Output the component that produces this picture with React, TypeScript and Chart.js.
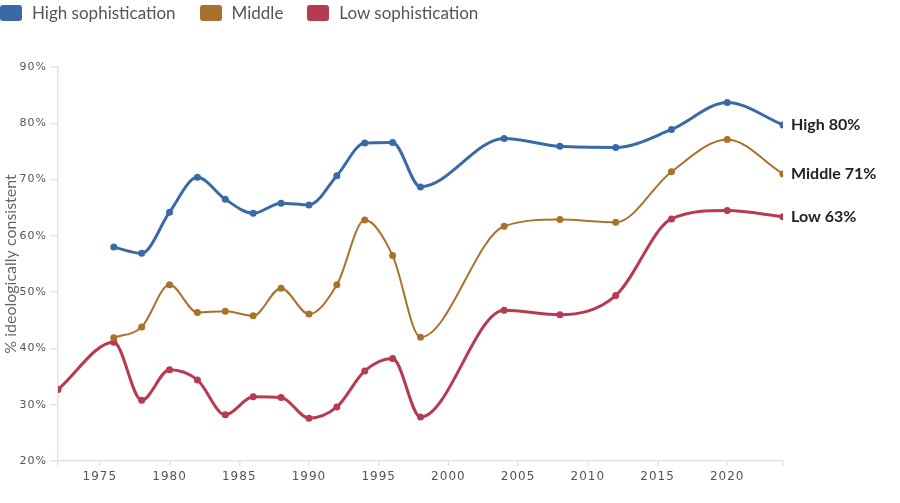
import React, { useEffect, useRef } from 'react';
import { Chart, registerables } from 'chart.js';

Chart.register(...registerables);

// Survey years for the two series that start in 1976
const years = [1976, 1978, 1980, 1982, 1984, 1986, 1988, 1990, 1992, 1994, 1996, 1998, 2004, 2008, 2012, 2016, 2020, 2024];
// The low-sophistication series also has a 1972 reading
const lowYears = [1972, ...years];

const highValues = [58.0, 56.9, 64.2, 70.4, 66.5, 64.0, 65.8, 65.5, 70.7, 76.5, 76.6, 68.7, 77.3, 75.9, 75.7, 78.9, 83.7, 79.7];
const middleValues = [41.9, 43.8, 51.3, 46.4, 46.6, 45.8, 50.7, 46.1, 51.3, 62.8, 56.5, 42.0, 61.7, 62.9, 62.4, 71.4, 77.1, 71.0];
const lowValues = [32.7, 41.1, 30.8, 36.2, 34.4, 28.2, 31.4, 31.3, 27.6, 29.6, 36.0, 38.2, 27.8, 46.8, 46.0, 49.4, 63.0, 64.5, 63.4];

const seriesNames = ['High sophistication', 'Middle', 'Low sophistication'];
const endNames = ['High', 'Middle', 'Low'];
const seriesColors = ['#3a6aa6', '#a8722a', '#b63a50'];
const lineWidths = [3, 2, 3];

const xTicks = [1972, 1975, 1980, 1985, 1990, 1995, 2000, 2005, 2010, 2015, 2020, 2024];
const yTicks = [20, 30, 40, 50, 60, 70, 80, 90];
const yTitle = '% ideologically consistent';

const axisColor = '#e7e4d9';
const tickColor = '#555555';

const toPoints = (xs: number[], ys: number[]) => xs.map((x, i) => ({ x, y: ys[i] }));

// Tick labels are drawn letter-spaced; everything after the scales is not.
const letterSpacingPlugin = {
  id: 'tickLetterSpacing',
  beforeDraw(chart: any) {
    chart.ctx.letterSpacing = '1px';
  },
  beforeDatasetsDraw(chart: any) {
    chart.ctx.letterSpacing = '0px';
  },
};

// Vertical axis title
const yTitlePlugin = {
  id: 'yTitle',
  afterDraw(chart: any) {
    const { ctx, chartArea } = chart;
    ctx.save();
    ctx.letterSpacing = '0px';
    ctx.translate(11, (chartArea.top + chartArea.bottom) / 2);
    ctx.rotate(-Math.PI / 2);
    ctx.font = '16px Lato, "Noto Sans", sans-serif';
    ctx.fillStyle = '#666666';
    ctx.textAlign = 'center';
    ctx.textBaseline = 'middle';
    ctx.fillText(yTitle, 0, 0);
    ctx.restore();
  },
};

// Name and latest value at the end of each line
const endLabelPlugin = {
  id: 'endLabels',
  afterDatasetsDraw(chart: any) {
    const { ctx } = chart;
    ctx.save();
    ctx.letterSpacing = '0px';
    ctx.font = 'bold 16px Lato, "Noto Sans", sans-serif';
    ctx.fillStyle = '#222222';
    ctx.textAlign = 'left';
    ctx.textBaseline = 'middle';
    chart.data.datasets.forEach((ds: any, i: number) => {
      const meta = chart.getDatasetMeta(i);
      const last = meta.data[meta.data.length - 1];
      const value = ds.data[ds.data.length - 1].y;
      ctx.fillText(`${endNames[i]} ${Math.round(value)}%`, last.x + 8, last.y);
    });
    ctx.restore();
  },
};

function Legend() {
  return (
    <div
      style={{
        position: 'absolute',
        left: 0,
        top: 3,
        display: 'flex',
        alignItems: 'center',
        fontFamily: 'Lato, "Noto Sans", sans-serif',
        fontSize: 17,
        color: '#555555',
        lineHeight: '20px',
      }}
    >
      {seriesNames.map((name, i) => (
        <div key={name} style={{ display: 'flex', alignItems: 'center', marginRight: 24 }}>
          <span
            style={{
              display: 'inline-block',
              width: 22,
              height: 16,
              borderRadius: 3,
              background: seriesColors[i],
              marginRight: 10,
            }}
          />
          <span>{name}</span>
        </div>
      ))}
    </div>
  );
}

export default function App() {
  const canvasRef = useRef<HTMLCanvasElement | null>(null);

  useEffect(() => {
    const canvas = canvasRef.current;
    if (!canvas) return;
    const series = [
      toPoints(years, highValues),
      toPoints(years, middleValues),
      toPoints(lowYears, lowValues),
    ];
    const chart = new Chart(canvas, {
      type: 'line',
      data: {
        datasets: series.map((data, i) => ({
          label: seriesNames[i],
          data,
          borderColor: seriesColors[i],
          backgroundColor: seriesColors[i],
          borderWidth: lineWidths[i],
          pointRadius: 3.5,
          pointBorderWidth: 0,
          pointBackgroundColor: seriesColors[i],
          cubicInterpolationMode: 'monotone',
          fill: false,
        })),
      },
      options: {
        responsive: false,
        animation: false,
        layout: { padding: { top: 67, right: 117, left: 0, bottom: 0 } },
        plugins: {
          legend: { display: false },
          tooltip: { enabled: false },
        },
        scales: {
          x: {
            type: 'linear',
            min: 1972,
            max: 2024,
            afterBuildTicks: (s: any) => {
              s.ticks = xTicks.map((value) => ({ value }));
            },
            afterFit: (s: any) => {
              s.height = 42;
            },
            grid: { drawOnChartArea: false, drawTicks: true, tickLength: 5, color: axisColor, lineWidth: 1.5 },
            border: { display: true, color: axisColor, width: 1.5 },
            ticks: {
              autoSkip: false,
              maxRotation: 0,
              padding: 4,
              color: tickColor,
              font: { family: '"DejaVu Sans", Verdana, sans-serif', size: 12 },
              callback: (v: any) => (Number(v) % 5 === 0 ? String(v) : ''),
            },
          },
          y: {
            min: 20,
            max: 90,
            afterBuildTicks: (s: any) => {
              s.ticks = yTicks.map((value) => ({ value }));
            },
            afterFit: (s: any) => {
              s.width = 58;
            },
            grid: { drawOnChartArea: false, drawTicks: true, tickLength: 8, color: axisColor, lineWidth: 1.5 },
            border: { display: true, color: axisColor, width: 1.5 },
            ticks: {
              padding: 3,
              color: tickColor,
              font: { family: '"DejaVu Sans", Verdana, sans-serif', size: 11 },
              callback: (v: any) => `${v}%`,
            },
          },
        },
      },
      plugins: [letterSpacingPlugin, yTitlePlugin, endLabelPlugin],
    } as any);
    return () => chart.destroy();
  }, []);

  return (
    <div style={{ position: 'fixed', left: 0, top: 0, width: 900, height: 503, background: '#ffffff' }}>
      <canvas ref={canvasRef} width={900} height={503} style={{ display: 'block' }} />
      <Legend />
    </div>
  );
}
